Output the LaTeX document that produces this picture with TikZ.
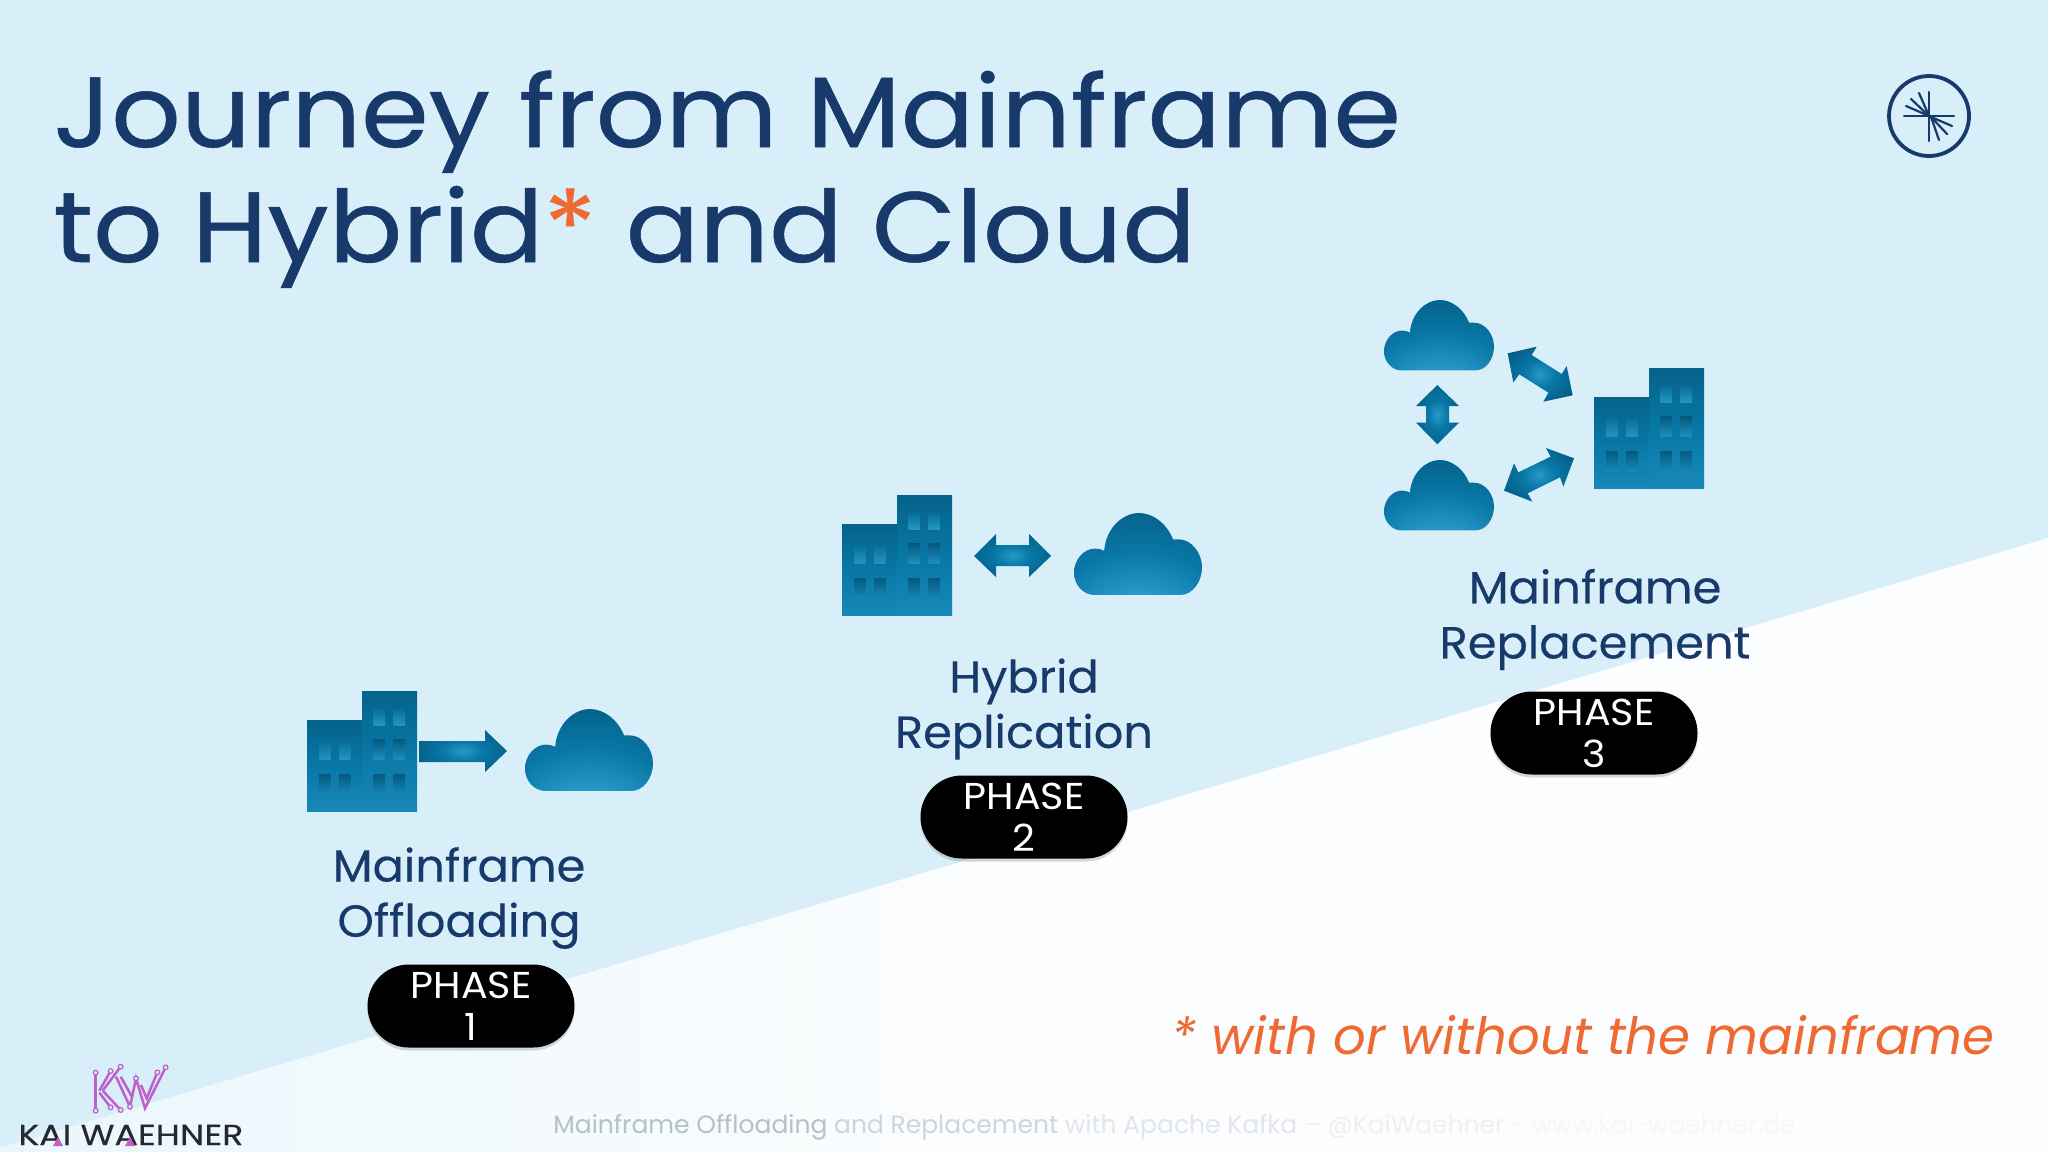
\documentclass[tikz,border=0pt]{standalone}
\usepackage{fontspec}
\setmainfont{Poppins}
\newfontfamily\titlefont[FakeStretch=1.09,FakeBold=0.5]{Poppins}
\newfontfamily\labelfont[FakeStretch=1.03,FakeBold=0.25]{Poppins}
\newfontfamily\pillfont[FakeStretch=1.06]{Poppins}
\newfontfamily\brandfont[FakeStretch=1.2,FakeBold=0.3]{Poppins}
\usetikzlibrary{shadows,shapes.misc}
\definecolor{bgblue}{HTML}{D8EFF9}
\definecolor{navy}{HTML}{173A6B}
\definecolor{orng}{HTML}{EF6A33}
\definecolor{kwp}{HTML}{BF5FC9}
\definecolor{kwd}{HTML}{25282E}
\definecolor{cdark}{HTML}{045A80}
\definecolor{cmid}{HTML}{0877A6}
\definecolor{clight}{HTML}{33A8D6}
\definecolor{wedgeA}{HTML}{DDF1FA}
\definecolor{wedgeB}{HTML}{EEF8FC}
\definecolor{wedgeC}{HTML}{FCFDFE}
\pgfdeclareradialshading{cloudsh}{\pgfpoint{0bp}{-44bp}}{color(0bp)=(clight);color(14bp)=(clight!70!cmid);color(32bp)=(cmid);color(55bp)=(cdark);color(70bp)=(cmid!60!cdark);color(100bp)=(cmid!30!cdark)}
\pgfdeclareradialshading{arrowsh}{\pgfpoint{0bp}{0bp}}{color(0bp)=(clight!70!cmid);color(12bp)=(cmid);color(32bp)=(cdark);color(50bp)=(cdark)}
\pgfdeclareverticalshading{bldsh}{100bp}{color(0bp)=(clight!85!cmid);color(15bp)=(clight!50!cmid);color(50bp)=(cmid);color(85bp)=(cdark);color(100bp)=(cdark)}
\pgfdeclarehorizontalshading{wedgesh}{100bp}{color(0bp)=(bgblue);color(10bp)=(wedgeA);color(30bp)=(wedgeB);color(50bp)=(wedgeC);color(100bp)=(wedgeC)}
\tikzset{
 x=0.5pt,y=-0.5pt,
 titletxt/.style={text=navy,font=\titlefont\fontsize{50}{50}\selectfont,anchor=base west,inner sep=0},
 lbl/.style={text=navy,font=\labelfont\fontsize{22.5}{27.6}\selectfont,align=center,inner sep=0},
 pill/.style={rounded rectangle,fill=black,text=white,minimum width=103.5pt,minimum height=41.5pt,inner sep=0,align=center,font=\pillfont\fontsize{18.7}{21}\selectfont,drop shadow={shadow xshift=0pt,shadow yshift=-1.5pt,opacity=.3}},
 foot/.style={font=\fontsize{12.5}{12.5}\selectfont,anchor=base west,inner sep=0},
}
\newcommand{\cloudat}[3]{% x y size(width px)
 \begin{scope}[shift={(#1,#2)},x=#3*0.5pt/331,y=-#3*0.5pt/331]
  \shade[shading=cloudsh] (53,212) .. controls (24,212) and (0,186) .. (0,154) .. controls (0,120) and (26,92) .. (54,92) .. controls (62,92) and (72,94) .. (78,98) .. controls (82,40) and (125,0) .. (168,0) .. controls (205,0) and (240,28) .. (256,68) -- (270,68) .. controls (305,68) and (331,105) .. (331,140) .. controls (331,180) and (305,212) .. (275,212) -- cycle;
 \end{scope}}
\newcommand{\buildingat}[2]{%
 \begin{scope}[shift={(#1,#2)},x=0.5pt/3,y=-0.5pt/3]
  \shade[shading=bldsh] (0,87) rectangle (165,361);
  \shade[shading=bldsh] (165,0) rectangle (330,361);
  \foreach \wx in {200,260}{
    \shade[top color=cmid!75!cdark,bottom color=clight!65!cmid] (\wx,56) rectangle (\wx+34,103);
    \shade[top color=cdark,middle color=cmid,bottom color=clight!50!cmid] (\wx,146) rectangle (\wx+34,206);
  }
  \foreach \wx in {36,96}{
    \shade[top color=cmid!60!cdark,bottom color=clight!60!cmid] (\wx,146) rectangle (\wx+34,206);
  }
  \foreach \wx in {36,96,200,260}{
    \shade[top color=cdark,middle color=cmid!75!cdark,bottom color=clight!35!cmid] (\wx,249) rectangle (\wx+34,311);
  }
 \end{scope}}
\begin{document}
\begin{tikzpicture}
\useasboundingbox (0,0) rectangle (2048,1152);
\fill[bgblue] (0,0) rectangle (2048,1152);
% white wedge
\shade[shading=wedgesh] (0,1148) -- (2048,538) -- (2048,1152) -- (0,1152) -- cycle;
% title
\node[titletxt] (t1) at (53,147) {Journey from Mainframe};
\node[titletxt] (t2) at (53,262) {to Hybrid\textcolor{orng}{*} and Cloud};
% logo
\draw[navy,line width=1.9pt] (1929,116) circle (40);
\begin{scope}[navy,line width=1.1pt,line cap=round]
 \draw (1929,92) -- (1929,141);
 \draw (1904,116) -- (1954,116);
 \draw (1929,116) -- (1919,93);
 \draw (1929,116) -- (1911,99);
 \draw (1929,116) -- (1906,106);
 \draw (1931,117) -- (1939,140);
 \draw (1931,117) -- (1947,134);
 \draw (1931,117) -- (1952,126);
\end{scope}
% phase 1
\buildingat{307}{691}
\shade[shading=arrowsh] (419,741) -- (485,741) -- (485,730) -- (507,751) -- (485,772) -- (485,762) -- (419,762) -- cycle;
\cloudat{525}{709}{128}
\node[lbl] (l1) at (459,898) {Mainframe\\Offloading};
\node[pill] (p1) at (471,1006) {PHASE\\1};
% phase 2
\buildingat{842}{495}
\shade[shading=arrowsh] (974,556) -- (996,534) -- (996,545) -- (1029,545) -- (1029,534) -- (1051,556) -- (1029,577) -- (1029,566) -- (996,566) -- (996,577) -- cycle;
\cloudat{1074}{513}{128}
\node[lbl] (l2) at (1024,709) {Hybrid\\Replication};
\node[pill] (p2) at (1024,817) {PHASE\\2};
% phase 3
\cloudat{1384}{300}{110}
\cloudat{1384}{460}{110}
\buildingat{1594}{368}
\begin{scope}[shift={(1360,280)},x=0.5pt/3,y=-0.5pt/3]
 \shade[shading=arrowsh] (443,220) -- (530,200) -- (515,225) -- (605,282) -- (620,258) -- (638,346) -- (550,365) -- (565,338) -- (478,283) -- (460,307) -- cycle;
 \shade[shading=arrowsh] (432,632) -- (462,550) -- (475,577) -- (572,530) -- (558,504) -- (642,535) -- (610,620) -- (600,592) -- (503,640) -- (517,665) -- cycle;
 \shade[shading=arrowsh] (232,315) -- (297,378) -- (267,378) -- (267,428) -- (297,428) -- (232,493) -- (168,428) -- (198,428) -- (198,378) -- (168,378) -- cycle;
\end{scope}
\node[lbl] (l3) at (1595,619.5) {Mainframe\\Replacement};
\node[pill] (p3) at (1594,733) {PHASE\\3};
% note
\node[text=orng,font=\fontsize{25.7}{25.7}\itshape\selectfont,anchor=base west,inner sep=0] (note) at (1171,1054) {* with or without the mainframe};
% footer
\node[foot] (f) at (553,1133) {\textcolor[HTML]{B4C1C8}{Mainframe Offloading} \textcolor[HTML]{CDD6DC}{and Replacement} \textcolor[HTML]{E2E6EA}{with Apache Kafka} \textcolor[HTML]{EEF0F3}{– @KaiWaehner} \textcolor[HTML]{F7F7F9}{- www.kai-waehner.de}};
% KW brand
\begin{scope}[shift={(80,1060)},x=0.5pt/3,y=-0.5pt/3,kwp,line width=1.25pt]
 \draw (47,152) -- (47,38);
 \draw (58,92) -- (92,33);
 \draw (68,92) -- (122,20);
 \draw (58,98) -- (92,142);
 \draw (68,92) -- (122,150);
 \draw (108,50) -- (150,140) -- (168,55) -- (195,145) -- (257,22);
 \draw (122,50) -- (157,112);
 \draw (183,75) -- (200,115) -- (232,37);
 \foreach \c in {(47,38),(47,152),(92,33),(122,20),(92,142),(122,150),(150,140),(168,55),(232,37),(257,22)}
   \filldraw[fill=bgblue,line width=0.6pt] \c circle (7);
\end{scope}
\node[text=kwd,font=\brandfont\fontsize{14.5}{14.5}\selectfont,anchor=base west,inner sep=0] (kw) at (18,1145) {KAI WAEHNER};
\fill[kwp] (53,1146) -- (58,1137) -- (63,1146) -- cycle;
\fill[kwp] (125,1146) -- (130,1137) -- (135,1146) -- cycle;
\end{tikzpicture}
\end{document}
